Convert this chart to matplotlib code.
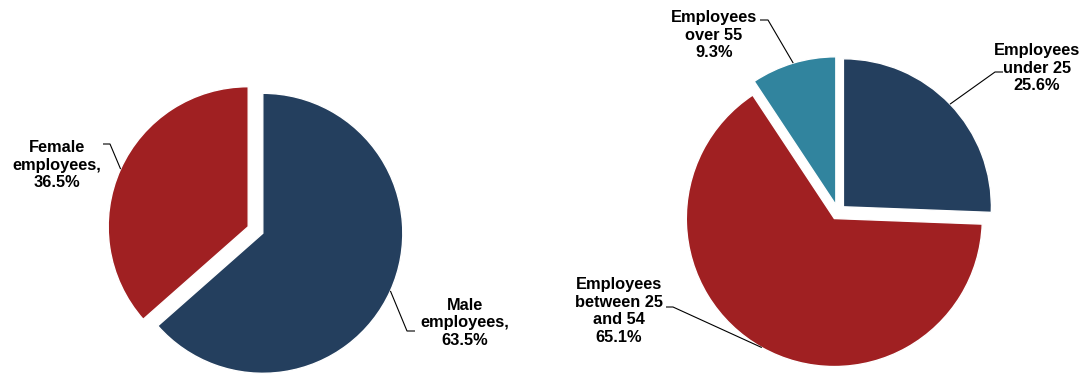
import numpy as np
import matplotlib.pyplot as plt

plt.rcParams['font.family'] = ['Liberation Sans', 'DejaVu Sans']

# staff by gender
gender_labels = ['Male\nemployees,', 'Female\nemployees,']
gender_share = [63.5, 36.5]
gender_colors = ['#243F5E', '#A02022']

# staff by age band
age_labels = ['Employees\nunder 25', 'Employees\nbetween 25\nand 54', 'Employees\nover 55']
age_share = [25.6, 65.1, 9.3]
age_colors = ['#243F5E', '#A02022', '#31849E']

H = 374
fig = plt.figure(figsize=(10.91, 3.74), dpi=100)
ax = fig.add_axes([0, 0, 1, 1])

w_gender, _ = ax.pie(gender_share, colors=gender_colors, startangle=90,
                     counterclock=False, center=(255.5, H - 230), radius=140,
                     explode=[8, 8], wedgeprops=dict(edgecolor='white', linewidth=1))
w_age, _ = ax.pie(age_share, colors=age_colors, startangle=90,
                  counterclock=False, center=(838, H - 212), radius=148,
                  explode=[7.5, 7.5, 7.5], wedgeprops=dict(edgecolor='white', linewidth=1))

ax.set_xlim(0, 1091)
ax.set_ylim(0, H)
ax.set_aspect('equal')
ax.axis('off')


def callout(wedge, text, text_xy, elbow, side):
    # leader line from the middle of the wedge's arc to the label
    ang = np.deg2rad((wedge.theta1 + wedge.theta2) / 2)
    cx, cy = wedge.center
    tip = (cx + wedge.r * np.cos(ang), cy + wedge.r * np.sin(ang))
    ax.plot([tip[0], elbow[0], side[0]], [tip[1], H - elbow[1], H - side[1]],
            color='black', lw=0.8, solid_capstyle='butt')
    ax.text(text_xy[0], H - text_xy[1], text, ha='center', va='center',
            multialignment='center', fontsize=11.8, fontweight='bold',
            linespacing=1.24)


fmt = lambda lab, v: f'{lab}\n{v:.1f}%'

callout(w_gender[0], fmt(gender_labels[0], gender_share[0]), (465, 323), (407, 331), (415, 331))
callout(w_gender[1], fmt(gender_labels[1], gender_share[1]), (57, 165), (110, 144), (103, 144))
callout(w_age[0], fmt(age_labels[0], age_share[0]), (1037, 68), (995, 72), (1003, 72))
callout(w_age[1], fmt(age_labels[1], age_share[1]), (619, 311), (673, 307), (666, 307))
callout(w_age[2], fmt(age_labels[2], age_share[2]), (714, 35), (768, 20), (760, 20))

fig.savefig('out.png', dpi=100)
